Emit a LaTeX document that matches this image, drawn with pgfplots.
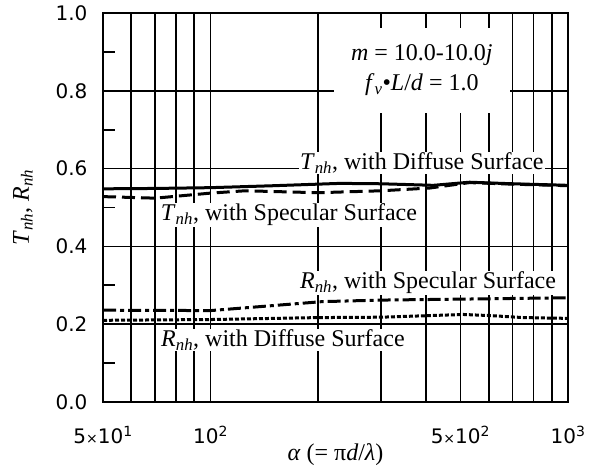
\documentclass[border=0pt]{standalone}
\usepackage{fontspec}
\setmainfont{Liberation Serif}
\newfontfamily\sansf{DejaVu Sans}
\usepackage{pgfplots}
\pgfplotsset{compat=1.18}
\newcommand{\tk}{\sansf\fontsize{20}{22}\selectfont}
\newcommand{\lb}{\fontsize{24}{30}\selectfont}
\newcommand{\X}{{\fontsize{14}{14}\selectfont ×}}
\begin{document}
\begin{tikzpicture}
\begin{axis}[
  scale only axis, width=465pt, height=389pt,
  xmode=log, xmin=50, xmax=1000, ymin=0, ymax=1,
  xtick={50,100,500,1000},
  xticklabels={5\X10\textsuperscript{1},10\textsuperscript{2},5\X10\textsuperscript{2},10\textsuperscript{3}},
  minor xtick={60,70,80,90,200,300,400,600,700,800,900},
  ytick={0,0.2,0.4,0.6,0.8,1.0},
  yticklabels={0.0,0.2,0.4,0.6,0.8,1.0},
  minor ytick={0.1,0.3,0.5,0.7,0.9},
  xmajorgrids, xminorgrids, ymajorgrids,
  grid style={black, line width=1.7pt},
  minor grid style={black, line width=1.7pt},
  axis line style={line width=1.7pt},
  tick style={black, line width=1.7pt},
  major tick length=0pt, minor tick length=12pt,
  tick align=inside,
  xtick pos=bottom, ytick pos=left,
  ticklabel style={font=\tk},
  xticklabel style={anchor=center, yshift=-33pt},
  yticklabel style={anchor=east, xshift=-12pt},
  clip=false,
]
% T specular (dashed)
\addplot[black, line width=3pt, dash pattern=on 13pt off 6pt] coordinates {
 (50,0.528) (70,0.524) (100,0.537) (125,0.543) (200,0.538) (300,0.543) (410,0.550) (530,0.564) (700,0.560) (1000,0.556)};
% T diffuse (solid)
\addplot[black, line width=3pt] coordinates {
 (50,0.548) (70,0.549) (100,0.551) (150,0.556) (230,0.562) (300,0.561) (420,0.557) (530,0.565) (700,0.561) (1000,0.557)};
% R specular (dash-dot)
\addplot[black, line width=3pt, dash pattern=on 13pt off 4pt on 4pt off 4pt] coordinates {
 (50,0.236) (100,0.235) (205,0.258) (300,0.262) (560,0.265) (1000,0.268)};
% R diffuse (dotted)
\addplot[black, line width=3pt, dash pattern=on 4pt off 2pt] coordinates {
 (50,0.210) (100,0.212) (200,0.217) (300,0.218) (510,0.225) (610,0.222) (750,0.217) (1000,0.215)};

\node[fill=white, minimum width=176pt, minimum height=85pt, align=center, inner sep=0pt, font=\lb]
  at (axis cs:390,0.853) {\textit{m} = 10.0-10.0\textit{j}\\ \textit{f}\textsubscript{\textit{v}}•\textit{L}/\textit{d} = 1.0};
\node[fill=white, inner sep=1pt, font=\lb] at (axis cs:390,0.614)
  {\textit{T}\textsubscript{\textit{nh}}, with Diffuse Surface};
\node[fill=white, inner sep=1pt, font=\lb] at (axis cs:165.7,0.481)
  {\textit{T}\textsubscript{\textit{nh}}, with Specular Surface};
\node[fill=white, inner sep=1pt, font=\lb] at (axis cs:406,0.306)
  {\textit{R}\textsubscript{\textit{nh}}, with Specular Surface};
\node[fill=white, inner sep=1pt, font=\lb] at (axis cs:159.4,0.159)
  {\textit{R}\textsubscript{\textit{nh}}, with Diffuse Surface};
\node[font=\lb, rotate=90] at ([xshift=-80pt]rel axis cs:0,0.5)
  {\textit{T}\textsubscript{\textit{nh}}, \textit{R}\textsubscript{\textit{nh}}};
\node[font=\lb] at ([yshift=-53pt]rel axis cs:0.5,0)
  {\textit{α} (= π\textit{d}/\textit{λ})};
\end{axis}
\pgfresetboundingbox
\path (current axis.south west) ++(-103pt,-73pt) rectangle ++(590pt,475pt);
\end{tikzpicture}
\end{document}
